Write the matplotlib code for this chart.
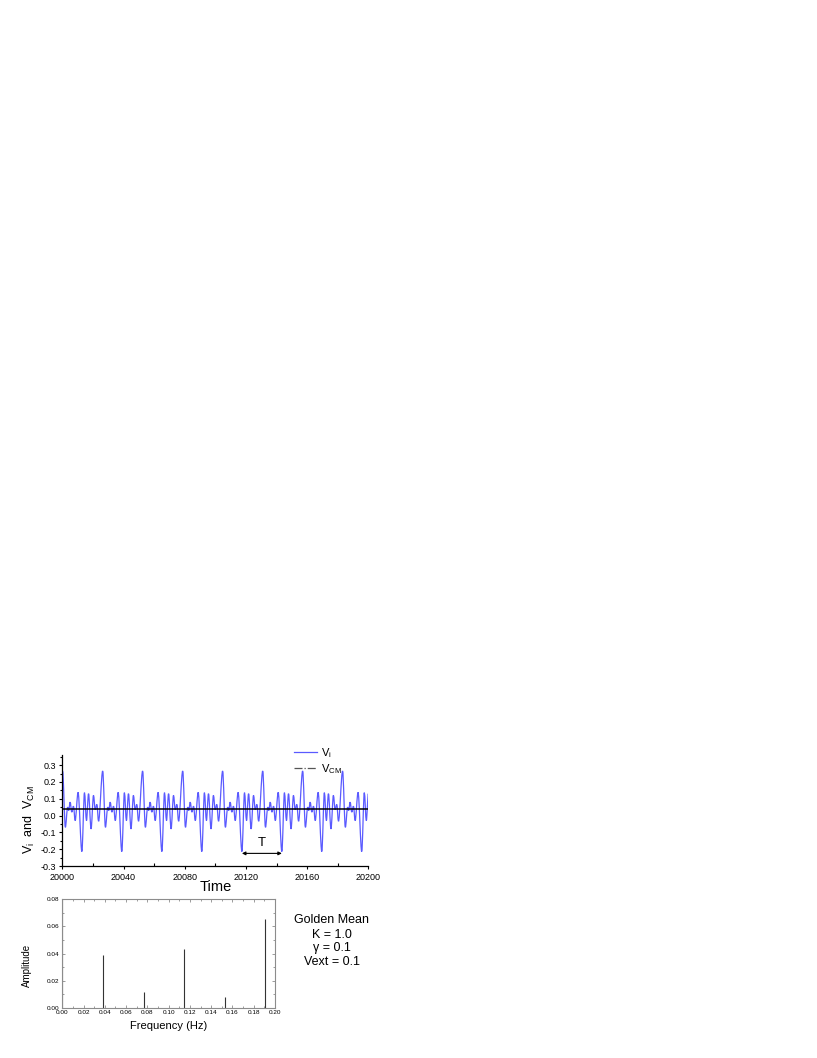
import numpy as np
import matplotlib
matplotlib.use("Agg")
import matplotlib.pyplot as plt
from matplotlib.path import Path
from matplotlib.patches import PathPatch
from matplotlib.lines import Line2D
from matplotlib.ticker import MultipleLocator, FormatStrFormatter

plt.rcParams['font.family'] = ['Liberation Sans', 'DejaVu Sans']
plt.rcParams['mathtext.fontset'] = 'custom'
plt.rcParams['mathtext.rm'] = 'Liberation Sans'
plt.rcParams['mathtext.it'] = 'Liberation Sans:italic'

# ---------------- data ----------------
# times of the deep troughs of V_i (start of each period)
trough_times = [19986.6, 20012.8, 20038.9, 20065.1, 20091.2, 20117.4, 20143.5, 20169.6, 20195.7]
# extrema inside one period: offset from trough, value
period_offsets = [0.0, 1.7, 3.0, 4.35, 6.0, 7.6, 8.7, 9.8, 10.9, 13.6, 15.4, 16.9, 17.6, 18.5, 19.6, 20.7, 21.8, 23.7]
period_values = [-0.214, 0.136, -0.03, 0.13, -0.08, 0.12, 0.035, 0.066, -0.034, 0.265, -0.07, 0.05, 0.03, 0.08, 0.02, 0.056, -0.03, 0.138]
v_cm_level = 0.04
t_range = [20000, 20200]

# spectrum
spec_freq = [0.0, 0.0383, 0.0765, 0.1147, 0.1530, 0.1910]
spec_amp = [0.085, 0.0389, 0.0118, 0.0436, 0.0080, 0.0658]

# ---------------- figure ----------------
W, H = 817, 1058
fig = plt.figure(figsize=(W / 100, H / 100), dpi=100)

def ax_rect(x0, y0, x1, y1):
    return [x0 / W, 1 - y1 / H, (x1 - x0) / W, (y1 - y0) / H]

ax1 = fig.add_axes(ax_rect(62.3, 755, 368.3, 866))

# build time series of extrema
t_pts, v_pts = [], []
for t0 in trough_times:
    for dt, v in zip(period_offsets, period_values):
        t_pts.append(t0 + dt)
        v_pts.append(v)
t_pts = np.array(t_pts)
v_pts = np.array(v_pts)

# smooth curve through extrema (cubic Bezier with flat tangents at extrema)
verts = [(t_pts[0], v_pts[0])]
codes = [Path.MOVETO]
for i in range(1, len(t_pts)):
    ta, va_ = t_pts[i - 1], v_pts[i - 1]
    tb, vb = t_pts[i], v_pts[i]
    d = (tb - ta) / 3.0
    verts += [(ta + d, va_), (tb - d, vb), (tb, vb)]
    codes += [Path.CURVE4] * 3
vi_color = '#5a5aff'
patch = PathPatch(Path(verts, codes), facecolor='none', edgecolor=vi_color, lw=0.9,
                  transform=ax1.transData)
ax1.add_patch(patch)
ax1.plot(t_range, [v_cm_level, v_cm_level], color='black', lw=1.1)

ax1.set_xlim(t_range)
ax1.set_ylim(-0.3, 0.36)
for s in ['top', 'right']:
    ax1.spines[s].set_visible(False)
for s in ['left', 'bottom']:
    ax1.spines[s].set_linewidth(0.9)

ax1.xaxis.set_major_locator(MultipleLocator(40))
ax1.xaxis.set_minor_locator(MultipleLocator(20))
ax1.yaxis.set_major_locator(MultipleLocator(0.1))
ax1.yaxis.set_minor_locator(MultipleLocator(0.05))
ax1.yaxis.set_major_formatter(FormatStrFormatter('%.1f'))
ax1.tick_params(axis='x', which='major', direction='out', length=2.5, width=0.8, labelsize=6.5, pad=2.5)
ax1.tick_params(axis='x', which='minor', direction='in', length=2.5, width=0.8)
ax1.tick_params(axis='y', which='major', direction='out', length=2.5, width=0.8, labelsize=6.5, pad=2)
ax1.tick_params(axis='y', which='minor', direction='out', length=1.5, width=0.8)

ax1.set_xlabel('Time', fontsize=10.5)
ax1.xaxis.set_label_coords(0.5, -0.125)
ax1.set_ylabel(r'V$_\mathrm{i}$  and  V$_\mathrm{CM}$', fontsize=9)
ax1.yaxis.set_label_coords(-0.084, 0.42)

# period annotation
ax1.annotate('', xy=(trough_times[5], -0.225), xytext=(trough_times[6], -0.225),
             arrowprops=dict(arrowstyle='<|-|>', color='black', lw=0.8,
                             mutation_scale=5, shrinkA=0, shrinkB=0))
ax1.text((trough_times[5] + trough_times[6]) / 2, -0.2, 'T', ha='center', va='bottom', fontsize=9.5)

handles = [Line2D([], [], color=vi_color, lw=0.9),
           Line2D([], [], color='#555555', lw=0.9, ls='-.')]
fig.legend(handles, [r'V$_\mathrm{i}$', r'V$_\mathrm{CM}$'], loc='upper left',
           bbox_to_anchor=(294 / W, 1 - 746 / H), frameon=False, fontsize=8,
           handlelength=2.1, handletextpad=0.3, labelspacing=0.2,
           borderpad=0, borderaxespad=0)

# ---------------- spectrum ----------------
ax2 = fig.add_axes(ax_rect(62.3, 899.3, 275, 1007.7))
ax2.vlines(spec_freq, 0, spec_amp, color='#333333', lw=0.8)
ax2.set_xlim(0, 0.2)
ax2.set_ylim(0, 0.08)
frame_c = '#8c8c8c'
for s in ax2.spines.values():
    s.set_color(frame_c)
    s.set_linewidth(0.8)
ax2.xaxis.set_major_locator(MultipleLocator(0.02))
ax2.xaxis.set_minor_locator(MultipleLocator(0.01))
ax2.yaxis.set_major_locator(MultipleLocator(0.02))
ax2.yaxis.set_minor_locator(MultipleLocator(0.01))
ax2.xaxis.set_major_formatter(FormatStrFormatter('%.2f'))
ax2.yaxis.set_major_formatter(FormatStrFormatter('%.2f'))
ax2.tick_params(which='major', direction='in', length=2.2, width=0.6, color=frame_c,
                labelsize=4.6, pad=2, top=True, right=True)
ax2.tick_params(which='minor', direction='in', length=1.3, width=0.6, color=frame_c,
                top=True, right=True)
ax2.set_xlabel('Frequency (Hz)', fontsize=8)
ax2.xaxis.set_label_coords(0.5, -0.125)
ax2.set_ylabel('Amplitude', fontsize=7)
ax2.yaxis.set_label_coords(-0.144, 0.394)

# parameter text
info = ['Golden Mean', 'K = 1.0', '\u03b3 = 0.1', 'Vext = 0.1']
info_y = [920, 935, 948.3, 961.7]
for s, y in zip(info, info_y):
    fig.text(332 / W, 1 - y / H, s, ha='center', va='center', fontsize=9)

fig.savefig('out.png', dpi=100)
